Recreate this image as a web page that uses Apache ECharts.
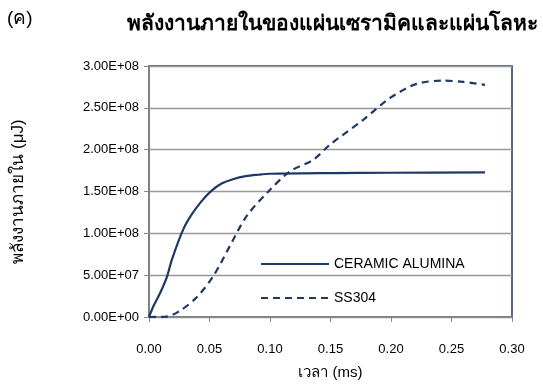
<!DOCTYPE html>
<html><head><meta charset="utf-8">
<script src="https://cdn.jsdelivr.net/npm/echarts@6/dist/echarts.min.js"></script>
<style>html,body{margin:0;padding:0;background:#fff}#c{width:543px;height:385px}</style>
</head><body><div id="c"></div>
<script>
const seriesNames = ['CERAMIC ALUMINA', 'SS304'];
const ceramicT = [0, 0.004, 0.009, 0.0146, 0.019, 0.0284, 0.0353, 0.0435, 0.0518, 0.0600, 0.0700, 0.0800, 0.0900, 0.1, 0.15, 0.2, 0.2777];
const ceramicE = [0, 1.4e7, 2.8e7, 4.7e7, 6.9e7, 1.05e8, 1.226e8, 1.385e8, 1.51e8, 1.595e8, 1.65e8, 1.683e8, 1.70e8, 1.712e8, 1.72e8, 1.724e8, 1.728e8];
const ssT = [0, 0.0146, 0.0256, 0.0394, 0.0532, 0.0669, 0.0807, 0.1, 0.1165, 0.1358, 0.1496, 0.1771, 0.199, 0.2212, 0.2432, 0.2597, 0.2777];
const ssE = [0, 5e5, 7.5e6, 2.35e7, 4.9e7, 8.5e7, 1.206e8, 1.52e8, 1.74e8, 1.88e8, 2.06e8, 2.357e8, 2.615e8, 2.786e8, 2.825e8, 2.81e8, 2.774e8];

const navy = '#1f3864';
const font = 'Liberation Sans, Arial, Noto Sans, sans-serif';
const chart = echarts.init(document.getElementById('c'));
function sci(v){
  if (v === 0) return '0.00E+00';
  const e = Math.floor(Math.log10(v));
  const m = v / Math.pow(10, e);
  return m.toFixed(2) + 'E+' + String(e).padStart(2, '0');
}
chart.setOption({
  animation: false,
  textStyle: {fontFamily: font},
  title: [
    {text: '(ค)', left: 2, top: 4, textStyle: {fontSize: 19, fontWeight: 'normal', color: '#000', fontFamily: font}},
    {text: 'พลังงานภายในของแผ่นเซรามิคและแผ่นโลหะ', left: 327, textAlign: 'center', top: 9, textStyle: {fontSize: 21, fontWeight: 'bold', color: '#000', fontFamily: font}}
  ],
  grid: {left: 149, right: 31, top: 66, bottom: 64, show: true, borderColor: navy, borderWidth: 1.5},
  legend: {
    orient: 'vertical', left: 255, top: 252, itemWidth: 68, itemHeight: 14, itemGap: 20,
    textStyle: {fontSize: 14, color: '#000', fontFamily: font},
    itemStyle: {opacity: 0},
    data: seriesNames
  },
  xAxis: {
    type: 'value', min: 0, max: 0.3, interval: 0.05,
    name: 'เวลา (ms)', nameLocation: 'middle', nameGap: 48,
    nameTextStyle: {fontSize: 15, color: '#000', fontFamily: font},
    axisLine: {lineStyle: {color: '#888', width: 1.5}},
    axisTick: {show: true, length: 5, lineStyle: {color: '#888'}},
    axisLabel: {fontSize: 13, color: '#000', margin: 26, formatter: v => v.toFixed(2)},
    splitLine: {show: false}
  },
  yAxis: {
    type: 'value', min: 0, max: 3e8, interval: 5e7,
    name: 'พลังงานภายใน (μJ)', nameLocation: 'middle', nameGap: 122, nameRotate: 90,
    nameTextStyle: {fontSize: 17, color: '#000', fontFamily: font},
    axisLine: {show: true, lineStyle: {color: '#888', width: 1.5}},
    axisTick: {show: true, length: 5, lineStyle: {color: '#888'}},
    axisLabel: {fontSize: 13, color: '#000', margin: 10, formatter: sci},
    splitLine: {show: true, lineStyle: {color: '#999', width: 1.3}}
  },
  series: [
    {name: seriesNames[0], type: 'line', symbol: 'none', smooth: 0.3,
     lineStyle: {color: navy, width: 2.2}, itemStyle: {color: navy},
     data: ceramicT.map((t, i) => [t, ceramicE[i]])},
    {name: seriesNames[1], type: 'line', symbol: 'none', smooth: 0.3,
     lineStyle: {color: navy, width: 2.2, type: [7, 5]}, itemStyle: {color: navy},
     data: ssT.map((t, i) => [t, ssE[i]])}
  ]
});
</script></body></html>
